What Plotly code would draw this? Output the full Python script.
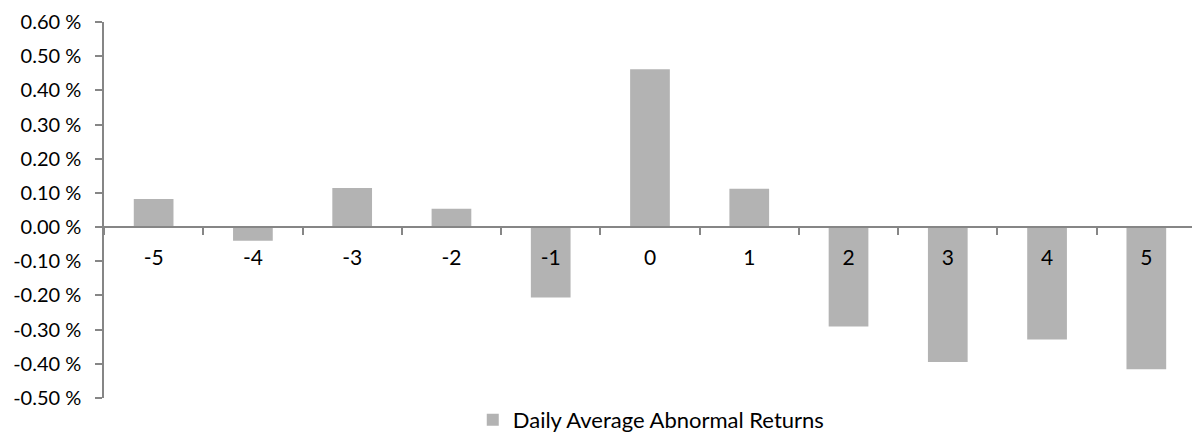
import plotly.graph_objects as go

# Event-window days and daily average abnormal returns (in percent)
days = ["-5", "-4", "-3", "-2", "-1", "0", "1", "2", "3", "4", "5"]
aar = [0.082, -0.040, 0.114, 0.054, -0.206, 0.462, 0.112, -0.291, -0.395, -0.329, -0.416]

y_ticks = [0.6, 0.5, 0.4, 0.3, 0.2, 0.1, 0.0, -0.1, -0.2, -0.3, -0.4, -0.5]
y_labels = ["%.2f %%" % v for v in y_ticks]

y_min, y_max = -0.5, 0.6
axis_grey = "#868686"
font_family = "Lato, 'Open Sans', sans-serif"

fig = go.Figure(
    go.Bar(
        x=days,
        y=aar,
        name="Daily Average Abnormal Returns",
        marker=dict(color="#b3b3b3", line=dict(width=0)),
    )
)

fig.update_layout(
    width=1192,
    height=433,
    margin=dict(l=104, r=0, t=22, b=35, autoexpand=False),
    paper_bgcolor="white",
    plot_bgcolor="white",
    bargap=0.6,
    font=dict(family=font_family, size=21, color="black"),
    showlegend=True,
    legend=dict(
        orientation="h",
        x=0.503,
        xanchor="center",
        yref="container",
        y=0.03,
        yanchor="middle",
        font=dict(size=22),
        itemwidth=30,
    ),
    xaxis=dict(
        type="category",
        range=[-0.5, 10.46],
        anchor="free",
        position=(0 - y_min) / (y_max - y_min),
        showline=True,
        linecolor=axis_grey,
        linewidth=1.5,
        ticks="outside",
        tickson="boundaries",
        ticklen=7,
        tickwidth=1.5,
        tickcolor=axis_grey,
        ticklabelstandoff=12,
        showgrid=False,
        zeroline=False,
        fixedrange=True,
    ),
    yaxis=dict(
        range=[y_min, y_max],
        tickvals=y_ticks,
        ticktext=y_labels,
        tickfont=dict(size=20),
        showline=True,
        linecolor=axis_grey,
        linewidth=1.5,
        ticks="outside",
        ticklen=7,
        tickwidth=1.5,
        tickcolor=axis_grey,
        ticklabelstandoff=10,
        showgrid=False,
        zeroline=False,
        fixedrange=True,
    ),
)

fig.write_html("out.html")
